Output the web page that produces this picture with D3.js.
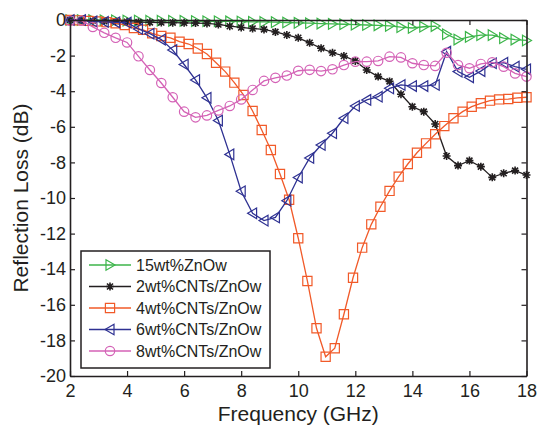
<!DOCTYPE html>
<html>
<head>
<meta charset="utf-8">
<script src="https://cdn.jsdelivr.net/npm/d3@7/dist/d3.min.js"></script>
<style>
  html, body { margin: 0; padding: 0; background: #fff; }
  svg { display: block; font-family: "Liberation Sans", Arial, Helvetica, sans-serif; }
</style>
</head>
<body>
<svg id="chart" width="538" height="427"></svg>
<script>
// ---- data ----
const freqA = [2, 2.4, 2.8, 3.2, 3.6, 4, 4.4, 4.8, 5.2, 5.6, 6, 6.4, 6.8, 7.2, 7.6, 8, 8.4, 8.8, 9.2, 9.6,
  10, 10.4, 10.8, 11.2, 11.6, 12, 12.4, 12.8, 13.2, 13.6, 14, 14.4, 14.8, 15.2, 15.6, 16, 16.4, 16.8, 17.2, 17.6, 18];
const freqB = [2, 2.32, 2.64, 2.96, 3.28, 3.6, 3.92, 4.24, 4.56, 4.88, 5.2, 5.52, 5.84, 6.16, 6.48, 6.8, 7.12,
  7.44, 7.76, 8.08, 8.4, 8.72, 9.04, 9.36, 9.68, 10, 10.32, 10.64, 10.96, 11.28, 11.6, 11.92, 12.24, 12.56,
  12.88, 13.2, 13.52, 13.84, 14.16, 14.48, 14.8, 15.12, 15.44, 15.76, 16.08, 16.4, 16.72, 17.04, 17.36, 17.68, 18];

const rl15ZnOw = [0, 0, 0, -0.02, -0.02, -0.03, -0.03, -0.04, -0.04, -0.05, -0.05, -0.06, -0.07, -0.07, -0.08,
  -0.09, -0.1, -0.11, -0.12, -0.14, -0.16, -0.18, -0.2, -0.22, -0.24, -0.26, -0.28, -0.3, -0.33, -0.4, -0.45,
  -0.38, -0.34, -0.8, -1.1, -0.95, -0.85, -0.85, -1.02, -1.1, -1.15];
const rl2CNT = [0, -0.02, -0.04, -0.06, -0.08, -0.1, -0.12, -0.13, -0.14, -0.15, -0.16, -0.17, -0.19, -0.25,
  -0.35, -0.42, -0.48, -0.53, -0.67, -0.84, -1.0, -1.28, -1.59, -1.84, -2.02, -2.3, -2.81, -3.18, -3.45, -4.17,
  -4.87, -5.15, -5.84, -7.64, -8.18, -7.9, -8.24, -8.84, -8.61, -8.46, -8.71];
const rl4CNT = [0, -0.02, -0.05, -0.08, -0.12, -0.18, -0.28, -0.45, -0.55, -0.75, -0.9, -1.0, -1.22, -1.35,
  -1.6, -1.91, -2.4, -2.9, -3.52, -4.21, -5.11, -6.18, -7.3, -8.65, -10.1, -12.26, -14.66, -17.32, -18.92,
  -18.44, -16.53, -14.48, -12.79, -11.48, -10.49, -9.6, -8.8, -8.09, -7.46, -6.93, -6.42, -5.96, -5.52, -5.15,
  -4.87, -4.68, -4.53, -4.46, -4.44, -4.37, -4.34];
const rl6CNT = [0, 0, -0.08, -0.1, -0.13, -0.15, -0.5, -0.77, -1.1, -1.69, -2.5, -3.37, -4.37, -5.65, -7.55,
  -9.62, -10.86, -11.27, -11.09, -10.15, -8.85, -7.75, -7.02, -6.36, -5.52, -4.83, -4.49, -4.31, -3.84, -3.65,
  -3.71, -3.71, -3.65, -1.78, -2.9, -3.22, -2.87, -2.43, -2.4, -2.62, -2.77];
const rl8CNT = [-0.04, -0.04, -0.39, -0.72, -1.0, -1.26, -2.04, -2.81, -3.54, -4.34, -5.15, -5.47, -5.36, -5.08,
  -4.83, -4.46, -3.93, -3.42, -3.25, -3.12, -2.85, -2.8, -2.87, -2.77, -2.53, -2.34, -2.34, -2.3, -2.06, -2.1,
  -2.43, -2.53, -2.58, -1.84, -2.53, -2.71, -2.47, -2.38, -2.62, -3.0, -3.18];

const seriesNames = ["15wt%ZnOw", "2wt%CNTs/ZnOw", "4wt%CNTs/ZnOw", "6wt%CNTs/ZnOw", "8wt%CNTs/ZnOw"];
const xTicks = [2, 4, 6, 8, 10, 12, 14, 16, 18];
const yTicks = [0, -2, -4, -6, -8, -10, -12, -14, -16, -18, -20];

// ---- layout / style ----
const margin = { left: 70, right: 538 - 526.5, top: 20, bottom: 427 - 376 };
const W = 538, H = 427;
const iw = W - margin.left - margin.right, ih = H - margin.top - margin.bottom;

const colors = ["#3cb54a", "#231f20", "#f15a29", "#2e3192", "#d462b6"];
const markers = ["triR", "star", "square", "triL", "circle"];

const series = [
  { name: seriesNames[0], x: freqA, y: rl15ZnOw },
  { name: seriesNames[1], x: freqA, y: rl2CNT },
  { name: seriesNames[2], x: freqB, y: rl4CNT },
  { name: seriesNames[3], x: freqA, y: rl6CNT },
  { name: seriesNames[4], x: freqA, y: rl8CNT }
];

const svg = d3.select("#chart");
const g = svg.append("g").attr("transform", `translate(${margin.left},${margin.top})`);

const x = d3.scaleLinear().domain([2, 18]).range([0, iw]);
const y = d3.scaleLinear().domain([-20, 0]).range([ih, 0]);

function markerPath(type) {
  switch (type) {
    case "triR": return "M-4,-5.3L5,0L-4,5.3Z";
    case "triL": return "M4,-5.3L-5,0L4,5.3Z";
    case "square": return "M-4.6,-4.6H4.6V4.6H-4.6Z";
    case "circle": return "M4.7,0A4.7,4.7 0 1,1 -4.7,0A4.7,4.7 0 1,1 4.7,0Z";
    case "star": return "M-4,0H4M0,-4V4M-3,-3L3,3M-3,3L3,-3";
  }
}

// lines + markers
const line = d3.line().x(d => x(d[0])).y(d => y(d[1]));
series.forEach((s, i) => {
  const pts = s.x.map((fx, j) => [fx, s.y[j]]);
  const sg = g.append("g");
  sg.append("path").datum(pts).attr("d", line)
    .attr("fill", "none").attr("stroke", colors[i]).attr("stroke-width", 1.3);
  sg.selectAll("path.m").data(pts).enter().append("path").attr("class", "m")
    .attr("transform", d => `translate(${x(d[0])},${y(d[1])})`)
    .attr("d", markerPath(markers[i]))
    .attr("fill", "none").attr("stroke", colors[i])
    .attr("stroke-width", markers[i] === "star" ? 1.6 : 1.2);
});

// axes (inward ticks, box)
const tickLen = 5;
const axB = g.append("g").attr("transform", `translate(0,${ih})`)
  .call(d3.axisBottom(x).tickValues(xTicks).tickSizeInner(-tickLen).tickSizeOuter(0).tickPadding(8));
const axT = g.append("g")
  .call(d3.axisTop(x).tickValues(xTicks).tickSizeInner(-tickLen).tickSizeOuter(0).tickFormat(""));
const axL = g.append("g")
  .call(d3.axisLeft(y).tickValues(yTicks).tickSizeInner(-tickLen).tickSizeOuter(0).tickPadding(4)
    .tickFormat(d => d === 0 ? "0" : String(d)));
const axR = g.append("g").attr("transform", `translate(${iw},0)`)
  .call(d3.axisRight(y).tickValues(yTicks).tickSizeInner(-tickLen).tickSizeOuter(0).tickFormat(""));

[axB, axT, axL, axR].forEach(a => {
  a.select(".domain").attr("stroke", "#231f20").attr("stroke-width", 1.6);
  a.selectAll(".tick line").attr("stroke", "#231f20").attr("stroke-width", 1.2);
  a.selectAll(".tick text").attr("fill", "#231f20").style("font-size", "18px")
    .style("font-family", '"Liberation Sans", Arial, sans-serif');
});
axB.selectAll(".tick text").attr("dy", "0.71em");

// axis titles
svg.append("text").attr("x", margin.left + iw / 2).attr("y", 421)
  .attr("text-anchor", "middle").attr("fill", "#231f20").style("font-size", "21px")
  .text("Frequency (GHz)");
svg.append("text").attr("transform", `translate(28,${margin.top + ih / 2}) rotate(-90)`)
  .attr("text-anchor", "middle").attr("fill", "#231f20").style("font-size", "21px")
  .text("Reflection Loss (dB)");

// legend
const lg = svg.append("g");
lg.append("rect").attr("x", 81).attr("y", 251).attr("width", 189).attr("height", 117)
  .attr("fill", "#fff").attr("stroke", "#231f20").attr("stroke-width", 1.5);
const rowY = d3.scaleLinear().domain([0, 4]).range([265, 351]);
series.forEach((s, i) => {
  const yy = rowY(i);
  lg.append("line").attr("x1", 89).attr("x2", 131).attr("y1", yy).attr("y2", yy)
    .attr("stroke", colors[i]).attr("stroke-width", 1.3);
  lg.append("path").attr("transform", `translate(110,${yy})`).attr("d", markerPath(markers[i]))
    .attr("fill", "none").attr("stroke", colors[i]).attr("stroke-width", markers[i] === "star" ? 1.6 : 1.2);
  lg.append("text").attr("x", 136).attr("y", yy).attr("dy", "0.36em")
    .attr("fill", "#231f20").style("font-size", "16px").text(s.name);
});
</script>
</body>
</html>
